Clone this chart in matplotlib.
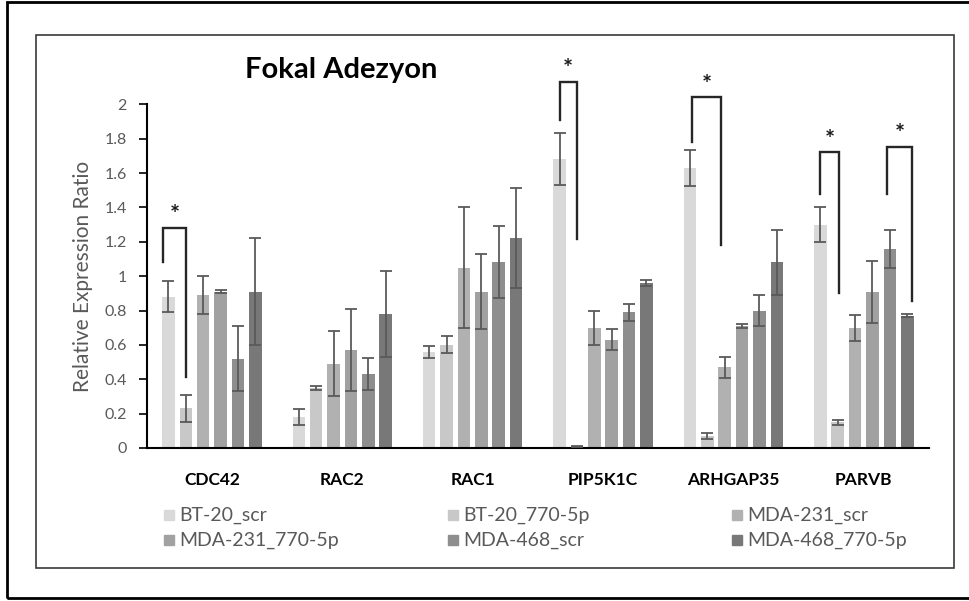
import numpy as np
import matplotlib
matplotlib.use("Agg")
import matplotlib.pyplot as plt
from matplotlib.patches import Rectangle

plt.rcParams['font.family'] = ['Lato', 'DejaVu Sans']

genes = ["CDC42", "RAC2", "RAC1", "PIP5K1C", "ARHGAP35", "PARVB"]
series = ["BT-20_scr", "BT-20_770-5p", "MDA-231_scr",
          "MDA-231_770-5p", "MDA-468_scr", "MDA-468_770-5p"]

bt20_scr = [0.88, 0.18, 0.56, 1.68, 1.63, 1.30]
bt20_770 = [0.23, 0.35, 0.60, 0.008, 0.07, 0.15]
mda231_scr = [0.89, 0.49, 1.05, 0.70, 0.47, 0.70]
mda231_770 = [0.91, 0.57, 0.91, 0.63, 0.71, 0.91]
mda468_scr = [0.52, 0.43, 1.08, 0.79, 0.80, 1.16]
mda468_770 = [0.91, 0.78, 1.22, 0.96, 1.08, 0.77]

bt20_scr_err = [0.09, 0.045, 0.035, 0.15, 0.105, 0.10]
bt20_770_err = [0.08, 0.01, 0.05, 0.005, 0.015, 0.015]
mda231_scr_err = [0.11, 0.19, 0.35, 0.10, 0.06, 0.075]
mda231_770_err = [0.01, 0.24, 0.22, 0.06, 0.01, 0.18]
mda468_scr_err = [0.19, 0.095, 0.21, 0.05, 0.09, 0.11]
mda468_770_err = [0.31, 0.25, 0.29, 0.02, 0.19, 0.01]

means = [bt20_scr, bt20_770, mda231_scr, mda231_770, mda468_scr, mda468_770]
errs = [bt20_scr_err, bt20_770_err, mda231_scr_err,
        mda231_770_err, mda468_scr_err, mda468_770_err]
colors = ["#d9d9d9", "#c8c8c8", "#b1b1b1", "#a1a1a1", "#8e8e8e", "#787878"]

y_ticks = [0, 0.2, 0.4, 0.6, 0.8, 1, 1.2, 1.4, 1.6, 1.8, 2]
y_tick_labels = ["0", "0.2", "0.4", "0.6", "0.8", "1", "1.2", "1.4", "1.6", "1.8", "2"]

# significance brackets: gene, left slot, right slot, top, left leg end, right leg end
brackets = [
    (0, -0.3, 1.0, 1.28, 1.08, 0.415),
    (3, 0.0, 1.0, 2.13, 1.91, 1.215),
    (4, 0.1, 1.8, 2.04, 1.78, 1.18),
    (5, 0.0, 1.1, 1.72, 1.475, 0.90),
    (5, 3.85, 5.3, 1.75, 1.48, 0.855),
]

fig = plt.figure(figsize=(9.69, 6.01), dpi=100)
ax = fig.add_axes([0.1514, 0.2546, 0.8073, 0.5719])

x = np.arange(len(genes))
slot = 0.8 / len(series)
bar_w = slot * 0.72


def slot_x(g, s):
    return g - 0.4 + slot * (s + 0.5)


for i, name in enumerate(series):
    xs = [slot_x(g, i) for g in x]
    ax.bar(xs, means[i], bar_w, color=colors[i], label=name, zorder=2)
    ax.errorbar(xs, means[i], yerr=errs[i], fmt='none', ecolor="#5a5a5a",
                elinewidth=1.3, capsize=4.2, capthick=1.3, zorder=3)

for g, s0, s1, top, lb, rb in brackets:
    xl, xr = slot_x(g, s0), slot_x(g, s1)
    ax.plot([xl, xl, xr, xr], [lb, top, top, rb], color="#262626", lw=1.7,
            clip_on=False, zorder=4, solid_joinstyle='miter')
    ax.text((xl + xr) / 2, top + 0.005, "*", ha='center', va='bottom',
            fontsize=17, fontweight='bold', color="#1a1a1a", clip_on=False)

ax.set_xlim(-0.5, len(genes) - 0.5)
ax.set_ylim(0, 2)
ax.set_yticks(y_ticks)
ax.set_yticklabels(y_tick_labels, color="#595959", fontsize=11.5)
ax.set_xticks(x)
ax.set_xticklabels(genes, fontsize=12.5, fontweight='bold', color="black")
ax.tick_params(axis='x', length=0, pad=17)
ax.tick_params(axis='y', length=5.5, width=1.2, pad=9, direction='out')

for side in ['top', 'right']:
    ax.spines[side].set_visible(False)
for side in ['left', 'bottom']:
    ax.spines[side].set_linewidth(1.5)
    ax.spines[side].set_color("black")

ax.set_ylabel("Relative Expression Ratio", color="#595959", fontsize=15, labelpad=8)
fig.text(0.3517, 0.8835, "Fokal Adezyon", ha='center', va='center',
         fontsize=21, fontweight='bold', color="black")

# legend laid out as three columns by two rows
col_x = [164, 448, 732]
row_y = [515, 540]
W, H = 969, 601
for i, name in enumerate(series):
    cx, cy = col_x[i % 3], row_y[i // 3]
    fig.add_artist(Rectangle(((cx) / W, (H - cy - 5) / H), 10 / W, 10 / H,
                             transform=fig.transFigure, color=colors[i]))
    fig.text((cx + 15) / W, (H - cy) / H, name, ha='left', va='center',
             fontsize=14, color="#595959")

# chart area frame and outer frame
fig.add_artist(Rectangle((36 / W, (H - 568.3) / H), 918.3 / W, 533.3 / H,
                         transform=fig.transFigure, fill=False,
                         edgecolor="#3a3a3a", lw=1.2))
fig.add_artist(Rectangle((7.3 / W, (H - 598) / H), 970 / W, 596 / H,
                         transform=fig.transFigure, fill=False,
                         edgecolor="black", lw=2))

fig.savefig("out.png", dpi=100)
